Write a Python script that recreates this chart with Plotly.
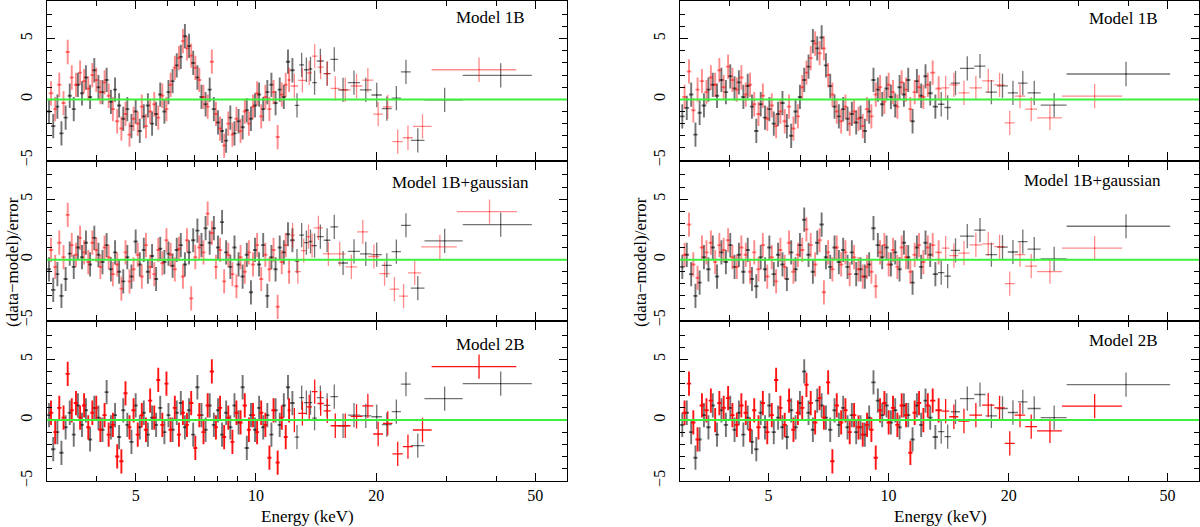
import numpy as np
import plotly.graph_objects as go
from plotly.subplots import make_subplots

# ---------------- energy bins (keV) ----------------
left_black_edges_dense = [3.00, 3.07, 3.15, 3.22, 3.30, 3.38, 3.46, 3.54, 3.63, 3.71, 3.80, 3.89, 3.99, 4.08, 4.18,
                          4.28, 4.39, 4.49, 4.60, 4.71, 4.82, 4.94, 5.06, 5.18, 5.30, 5.43, 5.56, 5.69, 5.83, 5.97,
                          6.11, 6.26, 6.41, 6.56, 6.72, 6.88, 7.05, 7.22, 7.39, 7.57, 7.75, 7.94, 8.13, 8.32, 8.52,
                          8.73, 8.94, 9.15, 9.37, 9.60, 9.83, 10.06, 10.30, 10.55, 10.80, 11.06, 11.33, 11.60, 11.88,
                          12.17, 12.50]
left_black_edges_hi = [12.83, 13.19, 13.55, 13.83, 14.2, 14.78, 15.35, 16.05, 16.98, 18.2, 19.45, 20.65, 21.85,
                       23.05, 24.4, 26.4, 32.9, 49.0]
left_red_edges_dense = [3.03, 3.11, 3.18, 3.26, 3.34, 3.42, 3.50, 3.59, 3.67, 3.76, 3.85, 3.94, 4.03, 4.13, 4.23,
                        4.33, 4.44, 4.55, 4.66, 4.77, 4.88, 5.00, 5.12, 5.24, 5.37, 5.50, 5.63, 5.76, 5.90, 6.04,
                        6.19, 6.34, 6.49, 6.64, 6.80, 6.97, 7.13, 7.30, 7.48, 7.66, 7.85, 8.03, 8.23, 8.42, 8.63,
                        8.83, 9.04, 9.26, 9.49, 9.71, 9.95, 10.18, 10.43, 10.68, 10.93, 11.20, 11.46, 11.74, 12.00,
                        12.20]
left_red_edges_hi_a = [12.75, 13.38, 13.8, 14.25, 14.78, 15.38, 16.2, 17.25, 18.45, 19.65, 20.78, 21.95, 23.3,
                       24.7, 27.5, 44.8]
left_red_edges_hi_b = [12.5, 12.95, 13.38, 13.68, 13.95, 14.7, 15.65, 16.75, 17.9, 19.1, 20.35, 21.6, 22.8, 24.0,
                       25.9, 31.8, 45.0]

right_black_edges_dense = [3.00, 3.08, 3.16, 3.24, 3.32, 3.40, 3.49, 3.58, 3.67, 3.76, 3.86, 3.96, 4.06, 4.16,
                           4.27, 4.38, 4.49, 4.60, 4.72, 4.84, 4.96, 5.09, 5.22, 5.35, 5.49, 5.63, 5.77, 5.92, 6.07,
                           6.22, 6.38, 6.54, 6.71, 6.88, 7.05, 7.23, 7.41, 7.60, 7.79, 7.99, 8.19, 8.40, 8.61, 8.83,
                           9.05, 9.28, 9.52, 9.76, 10.01, 10.26, 10.52, 10.79, 11.06, 11.34, 11.63, 11.92, 12.22,
                           12.53, 12.90, 13.30]
right_black_edges_hi = [13.8, 14.33, 15.1, 16.4, 17.5, 18.7, 19.9, 21.1, 22.3, 24.06, 27.95, 50.8]
right_red_edges_dense = [3.04, 3.12, 3.20, 3.28, 3.36, 3.45, 3.54, 3.63, 3.72, 3.81, 3.91, 4.01, 4.11, 4.22, 4.33,
                         4.44, 4.55, 4.66, 4.78, 4.90, 5.03, 5.16, 5.29, 5.42, 5.56, 5.70, 5.85, 6.00, 6.15, 6.30,
                         6.46, 6.63, 6.80, 6.97, 7.14, 7.32, 7.51, 7.70, 7.89, 8.09, 8.30, 8.51, 8.72, 8.94, 9.17,
                         9.40, 9.64, 9.88, 10.13, 10.39, 10.65, 10.92, 11.20, 11.48, 11.77, 12.07, 12.38, 12.70,
                         13.10, 13.60]
right_red_edges_hi = [14.2, 14.95, 15.95, 17.15, 18.4, 19.55, 20.7, 22.0, 23.56, 27.2, 38.5]

# ---------------- residuals (data-model)/error ----------------
L1_black = [-1.0, -2.2, -0.6, -2.8, -1.5,
            0.3, -0.8, 1.2, 0.5, 1.8, 0.2, 2.4, 1.0, 0.6, 1.6, -0.2,
            0.8, -0.5, -1.6, -0.8, -2.2, -1.0, -2.6, -1.4, -0.5, -2.0, -1.2, 0.4, -1.0, 0.6,
            1.5, 2.8, 3.5, 5.2, 4.4, 3.0, 1.8, 0.2, -0.4, 0.8,
            -0.8, -1.9, -2.6, -3.4, -1.5, -2.8, -1.8, -2.3, -0.9, -1.6,
            -0.5, 0.4, -0.8, 0.6, 1.2, -0.3, 0.8, 0.2, 3.1, 2.4,
            -0.5, 2.84, 2.44, 2.5, 1.38, 3.16, 2.12, 3.3, 0.78, 1.38, 0.78, 0.36, -0.76, 0.1, 2.26, -3.38,
            -0.04, 1.98]
L1_red = [0.5, -0.8, 1.2, -0.3, 3.9,
          1.8, 1.2, 2.2, 1.5, 0.9, 2.0, 1.6, 0.6, 1.4, 0.3,
          -0.8, -1.8, -2.4, -1.2, -2.9, -1.6, -2.0, -0.6, -2.2, -1.0, -0.4, -1.5, 0.3, -0.8,
          1.2, 2.6, 3.4, 4.8, 4.2, 3.6, 2.6, 1.6, 0.2, -0.6, 3.1,
          -1.2, -2.4, -3.8, -2.0, -2.9, -1.6, -2.6, -1.0, -2.0,
          -0.6, 0.5, -1.4, 0.2, -0.8, 0.6, -3.1, 0.4, 1.2, 1.6,
          1.1, 1.56, 2.18, 3.56, 2.66, 2.12, 0.9, 0.78, 1.1, 1.58, -1.22, -0.62, -3.48, -3.16, -2.22, 2.44]
L2_black = [-0.8, -2.5, -1.2, -3.0, -1.6,
            0.5, -0.6, 1.0, 0.2, 1.4, -0.4, 1.8, 0.4, -0.2, 1.2, -0.8,
            0.6, -1.0, -1.8, 0.2, -1.4, 1.5, -0.4, 0.8, -1.0, 0.3, -1.6, 0.9, -0.2, 0.5,
            -0.5, 0.8, 1.2, -0.4, 0.6, 1.6, 2.4, 1.2, 2.6, 1.4,
            2.6, 1.0, 3.1, 0.6, -0.6, 1.0, -0.4, -1.4, 0.4, -2.7,
            0.8, -0.4, 1.2, -3.0, 0.2, -0.8, 1.0, 0.6, 2.1, 1.6,
            -0.12, 2.03, 1.41, 1.5, 1.15, 1.9, 1.6, 2.7, -0.28, 0.69, 0.47, 0.42, -0.47, 0.66, 2.84, -2.35,
            1.55, 2.89]
L2_red = [0.8, -0.6, 1.4, 0.2, 3.7,
          1.2, 0.4, 1.8, 0.6, -0.2, 1.4, 0.8, -0.6, 1.0, 0.2,
          -1.2, -0.4, -2.4, 0.6, -1.8, -0.8, 0.4, -1.4, 1.2, -0.6, -1.2, 0.8, -0.3, 1.6,
          0.4, -0.8, 0.9, -1.4, 1.6, -3.2, 0.2, 1.0, 0.6, 3.8, 2.2,
          -0.6, 0.8, -1.8, 0.4, -1.2, -2.2, 0.2, -1.0, 0.6,
          -0.4, 1.2, -1.6, 0.4, -0.8, 0.8, -3.9, -0.2, 1.2, -1.0,
          2.03, -1.0, 0.74, 1.9, 1.15, 2.62, 0.47, 0.47, -0.6, 2.3, 0.26, -1.15, -2.44, -3.02, -1.09, 1.06,
          3.97]
L3_black = [0.4, -2.4, -1.0, -2.7, -0.6,
            0.6, -1.2, 1.2, -0.4, 0.8, -1.6, 1.0, 0.2, -0.8, 2.3, -0.6,
            0.4, -1.4, 0.8, -0.4, -1.8, 1.2, -0.6, 0.6, -1.2, 0.2, -0.4, 1.0, -1.0, 0.4,
            -0.8, 0.6, 1.4, -0.6, 0.8, -1.2, 2.7, 0.4, -0.8, 1.2,
            -0.4, 0.8, -1.2, 0.6, -0.6, 1.2, -0.2, 2.7, -2.3, 0.4,
            -0.8, 1.0, -0.6, 0.4, -1.2, 0.8, -0.4, 1.2, 2.7, 1.4,
            -1.4, 1.85, 1.44, 1.44, 0.16, 1.85, 1.2, 1.93, -0.47, 0.41, 0.35, 0.27, -0.38, 0.7, 2.95, -2.11,
            1.77, 3.0]
L3_red = [0.6, -1.0, 1.0, 0.2, 3.8,
          0.8, 1.4, 0.2, 1.2, -0.6, 0.6, 1.0, -0.8, 0.4, -1.2,
          -0.4, -3.0, -3.4, 2.2, -0.6, 0.8, -1.2, 0.4, -0.8, 1.6, 0.2, 3.3, -0.4, 3.0,
          -0.8, 1.0, -1.2, 0.6, -0.4, 1.4, -2.3, 0.4, -1.0, 1.2, 4.0,
          -0.6, 1.0, -1.4, 0.2, -1.8, 0.6, -0.2, 1.2, -0.8,
          0.4, -1.0, 0.6, -0.4, -3.1, 0.8, -3.5, 0.2, -1.4, 0.8,
          0.0, 0.55, 1.09, 2.34, 1.36, 0.76, -0.47, -0.47, 0.3, 1.17, -1.15, -0.28, -2.79, -2.19, -0.82, 4.39]

R1_black = [-1.4, -0.7, 0.4, -2.9, -1.1, -0.5, 0.8, 1.2, 0.3, 1.6, 0.6, 1.9, 0.9, 1.4, 0.2, 1.1,
            -0.6, -2.6, -0.4, -1.5, -0.8, -2.0, -1.2, -0.3, -2.2, -3.0, -1.0, 0.2, 1.6, 2.7,
            4.8, 4.2, 5.1, 2.8, 1.1, -0.6, -1.4, -0.8, -1.6, -1.2, -1.9, -1.5, -2.6, -1.0,
            1.6, 0.8, -0.4, 0.9, 0.2, -0.5, 1.0, 0.4, 1.6, -1.8, 1.5, 0.3, 1.9, 0.5, -0.6,
            -0.4, -0.67, 1.34, 2.55, 2.73, 0.59, 1.12, 0.54, 1.34, 0.54, -0.48, 2.09]
R1_red = [0.2, 2.3, -0.9, 0.8, 1.5, 0.6, 1.8, 1.2, 2.4, 1.0, 2.7, 1.6, 0.8, 1.8, 0.4, 1.2,
          -0.4, -1.2, 0.3, -1.6, -0.5, -2.2, -1.0, -1.8, -0.6, -2.4, -1.4, 1.0, 2.2, 3.4,
          4.6, 3.8, 4.2, 2.0, 0.4, -1.0, -1.8, -0.6, -2.0, -1.0, -1.6, -2.2, -0.8, -1.4,
          0.4, 1.0, -0.2, 1.2, 0.6, -0.6, 1.4, 0.8, -0.8, 0.6, 1.0, 0.2, 1.2, 2.2, 0.9,
          0.94, 1.2, 0.54, 0.94, 1.53, 1.2, -1.93, 0.27, -0.8, -1.53, 0.27]
R2_black = [-0.6, 0.4, -1.2, -3.0, -1.9, 0.2, -0.8, 1.0, -1.4, 0.6, -0.2, 1.2, -0.6, 0.4, -1.0, 0.8,
            -1.6, -2.2, 0.2, -0.8, 1.0, -1.2, 0.4, -0.4, -1.6, 0.6, -0.8, 1.2, 3.3, 0.4,
            -1.0, 1.4, 2.9, 0.2, -0.6, 1.0, -0.2, 0.8, -0.6, 0.6, -1.2, -0.8, -1.4, -0.4,
            2.6, 1.2, 0.2, 1.0, -0.4, 0.6, -0.8, 1.4, 0.2, -1.9, 1.0, -0.6, 1.4, 0.4, -1.2,
            -1.08, -1.36, 0.76, 1.95, 2.44, 0.41, 1.03, 0.63, 1.49, 0.87, 0.06, 2.76]
R2_red = [0.4, 2.9, -0.4, -1.5, 1.0, 0.6, 1.4, -0.2, 1.2, 0.8, 1.6, 0.2, -0.6, 1.0, 0.4, -1.0,
          0.6, -0.8, 1.2, -1.4, 0.2, -1.8, 0.8, -0.6, 1.4, -1.0, 0.4, 0.8, 2.5, 1.2,
          -0.4, 1.6, -2.7, 0.6, -0.8, 1.0, -0.4, 0.6, -1.2, 0.2, -0.8, -1.4, -0.6, -1.0,
          -2.2, 0.6, 1.2, -0.4, 0.8, -0.6, 1.0, 0.2, -1.0, 0.4, 1.2, -0.2, 1.0, 1.2, 0.6,
          0.95, 0.33, 0.54, 1.22, 1.3, 1.08, -1.98, 0.41, -0.54, -1.0, 0.95]
R3_black = [-0.4, 0.6, -1.0, -3.1, -1.6, 0.4, -0.6, 1.2, -1.2, 0.8, -0.4, 1.0, -0.8, 0.6, -1.2, 0.2,
            -1.8, -2.4, 0.6, -0.6, 1.2, -1.0, 0.2, -0.6, -1.4, 0.8, -0.6, 1.4, 4.0, 0.6,
            -0.8, 1.6, 1.2, 0.2, -0.8, 0.8, -0.4, 1.0, -0.6, 0.4, -1.0, -0.6, -1.2, 0.2,
            3.1, 1.6, 0.4, 1.2, -0.2, 0.8, -0.6, 1.2, 0.4, -1.6, 1.2, -0.4, 1.6, 0.2, -1.4,
            -0.96, -1.37, 0.68, 1.77, 2.1, 0.35, 0.95, 0.62, 1.5, 0.95, 0.19, 2.92]
R3_red = [0.6, 3.0, -0.2, -1.6, 1.2, 0.8, 1.6, 0.0, 1.4, 1.0, 1.8, 0.4, -0.4, 1.2, 0.6, -0.8,
          0.8, -0.6, 1.4, -1.0, 0.4, 3.3, 1.0, -0.4, 1.6, -0.8, 0.6, 1.0, 2.9, 1.4,
          -0.2, 1.8, 0.2, 3.1, -3.4, 1.2, -0.2, 0.8, -1.0, 0.4, -0.6, -1.2, -0.4, -0.8,
          -3.1, 0.8, 1.4, -0.2, 1.0, -0.4, 1.2, 0.4, -2.7, 0.6, 1.4, 0.0, 1.2, 1.6, 0.8,
          0.74, 0.27, -0.08, 0.41, 1.23, 1.0, -1.92, 0.41, -0.55, -0.9, 1.15]

panel_labels = ["Model 1B", "Model 1B+gaussian", "Model 2B"]
x_tick_values = [5, 10, 20, 50]
x_minor_values = [3, 4, 6, 7, 8, 9, 30, 40]
y_tick_values = [-5, 0, 5]
y_tick_text = ["\u22125", "0", "5"]
y_minor_values = [-4, -3, -2, -1, 1, 2, 3, 4, 6, 7]
E_RANGE = [3.0, 60.0]
Y_RANGE = [-5.02, 8.1]

BLACK = "rgba(0,0,0,0.55)"
PINK = "rgba(255,0,0,0.45)"
RED = "rgba(255,0,0,0.92)"
GREEN = "#3cf03c"
FONT = "Liberation Serif"

fig = make_subplots(rows=3, cols=2)


def add_part(c, v, lo, hi, row, col, color, thick):
    fig.add_trace(go.Scatter(
        x=c, y=v, mode="markers",
        marker=dict(size=1, color=color),
        error_x=dict(type="data", symmetric=False, array=hi - c, arrayminus=c - lo,
                     color=color, thickness=thick, width=0),
        error_y=dict(type="constant", value=1.0, color=color, thickness=thick, width=0),
        showlegend=False, hoverinfo="skip"), row=row, col=col)


def add_series(dense_edges, hi_edges, values, row, col, color):
    e = np.asarray(list(dense_edges) + list(hi_edges), dtype=float)
    v = np.asarray(values, dtype=float)
    if len(e) - 1 != len(v):
        raise ValueError(f"length mismatch r{row}c{col}: {len(e)-1} bins vs {len(v)} values")
    lo, hi = e[:-1], e[1:]
    c = 0.5 * (lo + hi)
    n = len(dense_edges) - 1
    add_part(c[:n], v[:n], lo[:n], hi[:n], row, col, color, 1.9)
    add_part(c[n:], v[n:], lo[n:], hi[n:], row, col, color, 1.3)


add_series(left_black_edges_dense, left_black_edges_hi, L1_black, 1, 1, BLACK)
add_series(left_red_edges_dense, left_red_edges_hi_a, L1_red, 1, 1, PINK)
add_series(left_black_edges_dense, left_black_edges_hi, L2_black, 2, 1, BLACK)
add_series(left_red_edges_dense, left_red_edges_hi_b, L2_red, 2, 1, PINK)
add_series(left_black_edges_dense, left_black_edges_hi, L3_black, 3, 1, BLACK)
add_series(left_red_edges_dense, left_red_edges_hi_a, L3_red, 3, 1, RED)
add_series(right_black_edges_dense, right_black_edges_hi, R1_black, 1, 2, BLACK)
add_series(right_red_edges_dense, right_red_edges_hi, R1_red, 1, 2, PINK)
add_series(right_black_edges_dense, right_black_edges_hi, R2_black, 2, 2, BLACK)
add_series(right_red_edges_dense, right_red_edges_hi, R2_red, 2, 2, PINK)
add_series(right_black_edges_dense, right_black_edges_hi, R3_black, 3, 2, BLACK)
add_series(right_red_edges_dense, right_red_edges_hi, R3_red, 3, 2, RED)

W, H = 1200, 527
T, B = 1, 46
plot_h = H - T - B
LW = 1.3
gap = LW / plot_h
x_domains = {1: [47 / W, 567 / W], 2: [680 / W, 1199 / W]}
y_domains = {1: [2 / 3 + gap / 2, 1.0], 2: [1 / 3 + gap / 2, 2 / 3 - gap / 2], 3: [0.0, 1 / 3 - gap / 2]}

axis_font = dict(family=FONT, size=16, color="black")
for r in (1, 2, 3):
    for c in (1, 2):
        fig.update_xaxes(
            type="log", range=[np.log10(E_RANGE[0]), np.log10(E_RANGE[1])], domain=x_domains[c],
            automargin=False,
            showline=True, linecolor="black", linewidth=LW, mirror="ticks",
            ticks="inside", ticklen=8, tickwidth=1.2, tickcolor="black",
            tickvals=x_tick_values, ticktext=[str(t) for t in x_tick_values],
            showticklabels=(r == 3), tickfont=axis_font,
            minor=dict(tickmode="array", tickvals=x_minor_values, ticks="inside", ticklen=5,
                       tickwidth=1.2, tickcolor="black", showgrid=False),
            showgrid=False, zeroline=False, row=r, col=c)
        fig.update_yaxes(
            range=Y_RANGE, domain=y_domains[r], automargin=False,
            showline=True, linecolor="black", linewidth=LW, mirror="ticks",
            ticks="inside", ticklen=8, tickwidth=1.2, tickcolor="black",
            tickvals=y_tick_values, ticktext=y_tick_text, tickangle=-90, tickfont=axis_font,
            ticklabelstandoff=7,
            minor=dict(tickmode="array", tickvals=y_minor_values, ticks="inside", ticklen=5,
                       tickwidth=1.2, tickcolor="black", showgrid=False),
            showgrid=False, zeroline=False, row=r, col=c)
        fig.add_hline(y=0, line=dict(color=GREEN, width=2), row=r, col=c)


def py(pix):
    return (H - B - pix) / plot_h


label_pos = {(1, 1): (490, 18), (2, 1): (460, 182), (3, 1): (490, 344),
             (1, 2): (1123, 19), (2, 2): (1092, 180), (3, 2): (1123, 340)}
for (r, c), (px, pyy) in label_pos.items():
    fig.add_annotation(x=px / W, y=py(pyy), xref="paper", yref="paper", text=panel_labels[r - 1],
                       showarrow=False, font=dict(family=FONT, size=17, color="black"),
                       xanchor="center", yanchor="middle")

for px in (12, 640):
    fig.add_annotation(x=px / W, y=py(262), xref="paper", yref="paper", text="(data\u2212model)/error",
                       textangle=-90, showarrow=False, font=dict(family=FONT, size=17, color="black"),
                       xanchor="center", yanchor="middle")
for px in (307, 940):
    fig.add_annotation(x=px / W, y=py(516), xref="paper", yref="paper", text="Energy (keV)",
                       showarrow=False, font=dict(family=FONT, size=17, color="black"),
                       xanchor="center", yanchor="middle")

fig.update_layout(width=W, height=H, margin=dict(l=0, r=0, t=T, b=B, autoexpand=False),
                  paper_bgcolor="white", plot_bgcolor="white", showlegend=False)
fig.write_html("out.html", config={"displayModeBar": False},
               post_script="document.body.style.margin='0';document.body.style.overflow='hidden';")
